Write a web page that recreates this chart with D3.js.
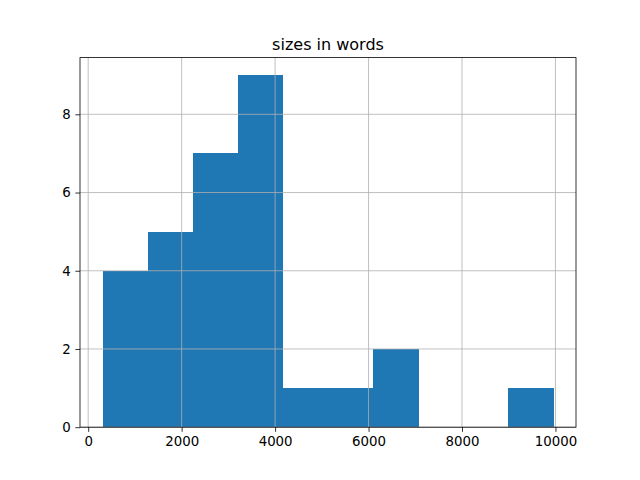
<!DOCTYPE html>
<html><head><meta charset="utf-8">
<script src="https://cdn.jsdelivr.net/npm/d3@7"></script>
<style>body{margin:0;background:#fff}svg{display:block}</style>
</head><body>
<script>
const binEdges = [307, 1272, 2237, 3202, 4167, 5132, 6097, 7062, 8027, 8992, 9957];
const counts = [4, 5, 7, 9, 1, 1, 2, 0, 0, 1];
const xTicks = [0, 2000, 4000, 6000, 8000, 10000];
const yTicks = [0, 2, 4, 6, 8];
const title = "sizes in words";

const W = 640, H = 480;
const L = 80, R = 576, T = 57.6, B = 427.2;
const svg = d3.select("body").append("svg").attr("width", W).attr("height", H);
const xmin = binEdges[0], xmax = binEdges[binEdges.length - 1];
const pad = (xmax - xmin) * 0.05;
const x = d3.scaleLinear().domain([xmin - pad, xmax + pad]).range([L, R]);
const y = d3.scaleLinear().domain([0, d3.max(counts) * 1.05]).range([B, T]);

const bins = counts.map((c, i) => ({x0: binEdges[i], x1: binEdges[i + 1], c}));
svg.append("g").attr("shape-rendering", "crispEdges")
  .selectAll("rect").data(bins.filter(d => d.c > 0)).join("rect")
  .attr("x", d => x(d.x0)).attr("width", d => x(d.x1) - x(d.x0) + 0.5)
  .attr("y", d => y(d.c)).attr("height", d => y(0) - y(d.c))
  .attr("fill", "#1f77b4");

// grid
const grid = svg.append("g").attr("stroke", "#b0b0b0").attr("stroke-width", 0.8);
grid.selectAll(".gx").data(xTicks).join("line")
  .attr("x1", d => x(d)).attr("x2", d => x(d)).attr("y1", T).attr("y2", B);
grid.selectAll(".gy").data(yTicks).join("line")
  .attr("y1", d => y(d)).attr("y2", d => y(d)).attr("x1", L).attr("x2", R);

const font = "DejaVu Sans, sans-serif";
const xa = svg.append("g").attr("transform", `translate(0,${B})`)
  .call(d3.axisBottom(x).tickValues(xTicks).tickFormat(d3.format("d")).tickSize(4.67).tickPadding(4.67));
const ya = svg.append("g").attr("transform", `translate(${L},0)`)
  .call(d3.axisLeft(y).tickValues(yTicks).tickFormat(d3.format("d")).tickSize(4.67).tickPadding(4.67));
[xa, ya].forEach(a => {
  a.select(".domain").remove();
  a.selectAll("line").attr("stroke", "#000").attr("stroke-width", 0.8);
  a.selectAll("text").attr("font-family", font).attr("font-size", "13.33px").attr("fill", "#000");
});

svg.append("rect").attr("x", L).attr("y", T).attr("width", R - L).attr("height", B - T)
  .attr("fill", "none").attr("stroke", "#000").attr("stroke-width", 0.8);

svg.append("text").attr("x", (L + R) / 2).attr("y", T - 8).attr("text-anchor", "middle")
  .attr("font-family", font).attr("font-size", "16px").text(title);
</script>
</body></html>
